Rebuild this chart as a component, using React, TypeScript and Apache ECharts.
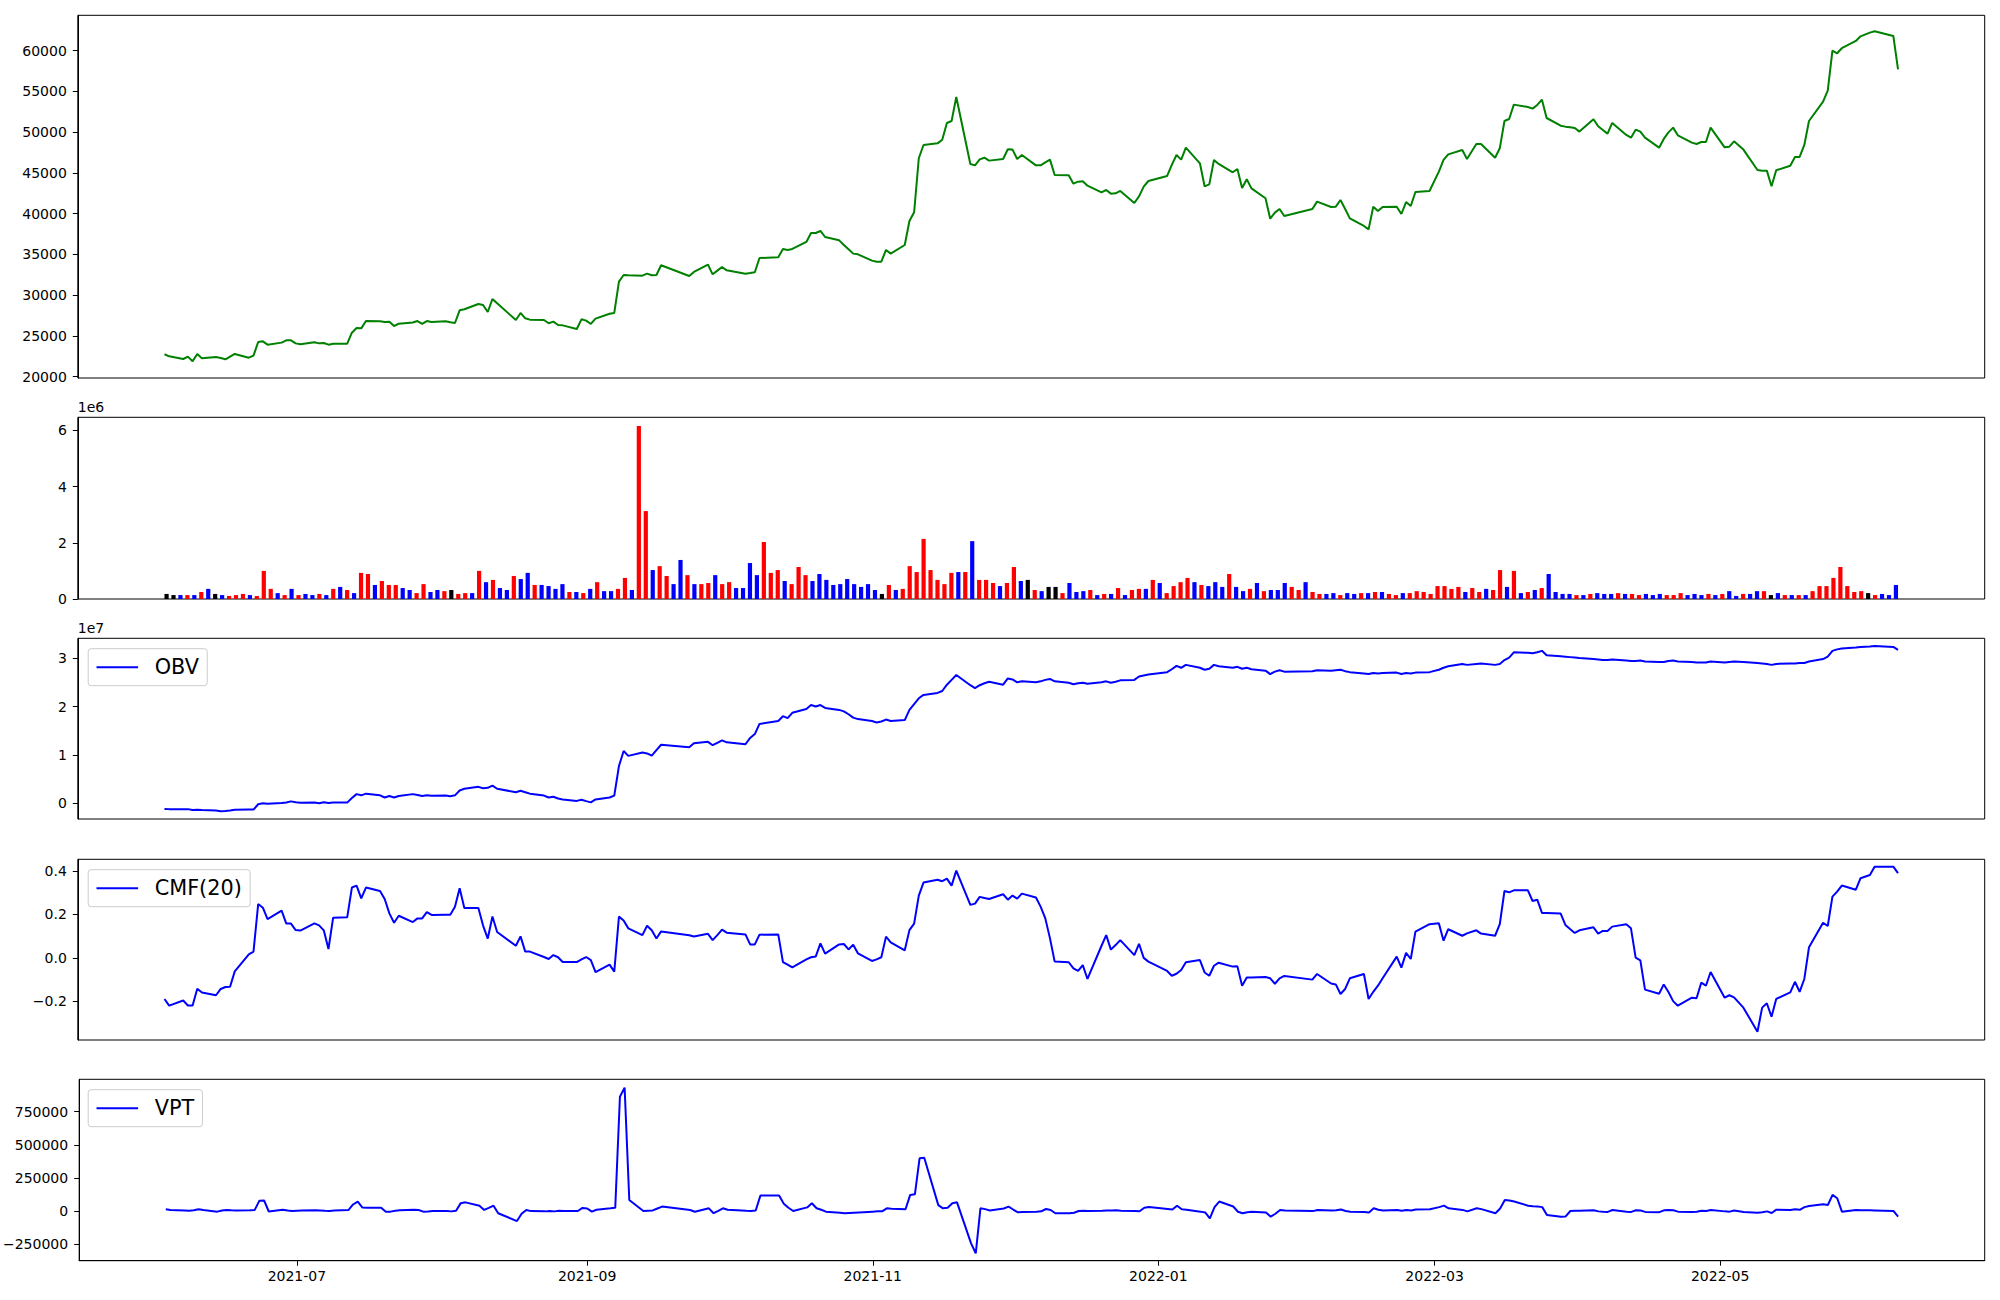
import React, { useEffect, useRef } from "react";
import * as echarts from "echarts";

// ---------- DATA ----------
const firstDay = "2021-06-03";
const lastDay = "2022-06-08";
const marketHolidays = [
  "2021-08-16", "2021-09-20", "2021-09-21", "2021-09-22", "2021-10-04", "2021-10-11",
  "2021-12-31", "2022-01-31", "2022-02-01", "2022-02-02", "2022-03-01", "2022-03-09",
  "2022-05-05", "2022-06-01", "2022-06-06",
];

const closePrice = [
  // 2021-06
  22750, 22500, 22170, 22460, 21890, 22790, 22250, 22420, 22290, 22130, 22460, 22790, 22330, 22580, 24260, 24340, 23930, 24180, 24460, 24460,
  // 2021-07
  24090, 23970, 24220, 24090, 24130, 23930, 24050, 24050, 25400, 25980, 25930, 26830, 26790, 26710, 26750, 26220, 26510, 26650, 26830, 26470, 26830, 26710,
  // 2021-08
  26790, 26670, 26590, 28140, 28270, 28920, 28800, 27940, 29530, 29000, 26960, 27820, 27160, 27000, 26960, 26550, 26750, 26340, 26300, 25850, 27040,
  // 2021-09
  26880, 26470, 27120, 27730, 27820, 31660, 32480, 32440, 32400, 32640, 32440, 32480, 33670, 32360, 32850, 33750, 32560, 33010, 33460,
  // 2021-10
  33050, 32640, 32720, 32810, 34560, 34650, 35670, 35550, 35670, 36530, 37630, 37630, 37880, 37140, 36730, 36160, 35630, 35100, 35010,
  // 2021-11
  34240, 34110, 34110, 35550, 35100, 36160, 39100, 40170, 46800, 48430, 48630, 49080, 51130, 51370, 54320, 46100, 45930, 46670, 46870, 46510, 46710, 47900,
  // 2021-12
  47860, 46710, 47200, 45930, 45930, 46300, 46630, 44750, 44710, 43680, 43930, 43970, 43440, 42620, 42910, 42460, 42500, 42790, 41310, 42130, 43320, 44010,
  // 2022-01
  44630, 45980, 47200, 46630, 48100, 46180, 43360, 43600, 46590, 46100, 45080, 45480, 43150, 44220, 43110, 41890, 39390, 40130, 40580, 39720,
  // 2022-02
  40580, 41480, 40820, 40860, 41680, 40580, 39430, 38490, 38080, 40860, 40330, 40820, 40860, 39960, 41430, 40940, 42660, 42790,
  // 2022-03
  45160, 46590, 47280, 47820, 46710, 48550, 48550, 46870, 48020, 51370, 51620, 53380, 53090, 52890, 53340, 53990, 51740, 50800, 50680, 50600, 50510,
  // 2022-04
  50070, 51580, 50720, 50270, 49820, 51130, 49660, 49330, 50310, 50070, 49330, 48100, 49170, 49980, 50560, 49620, 48720, 48550, 48800, 48800, 50560,
  // 2022-05
  48140, 48220, 48880, 47860, 45360, 45280, 45280, 43360, 45320, 45890, 46960, 46960, 48430, 51370, 53750, 55100, 60000, 59680, 60300, 61190, 61760,
  // 2022-06
  62210, 62380, 61800, 57710,
];

// volume in millions of shares
const volumeM = [
  0.18, 0.14, 0.14, 0.14, 0.14, 0.25, 0.36, 0.18, 0.14, 0.11,
  0.14, 0.18, 0.14, 0.11, 1.0, 0.36, 0.21, 0.14, 0.36, 0.14,
  0.18, 0.14, 0.18, 0.14, 0.36, 0.43, 0.32, 0.21, 0.93, 0.89,
  0.5, 0.64, 0.5, 0.5, 0.39, 0.32, 0.21, 0.53, 0.25, 0.32,
  0.28, 0.32, 0.18, 0.21, 0.21, 1.0, 0.6, 0.68, 0.39, 0.32,
  0.82, 0.71, 0.93, 0.5, 0.5, 0.46, 0.36, 0.53, 0.25, 0.25,
  0.21, 0.36, 0.6, 0.28, 0.28, 0.36, 0.75, 0.32, 6.16, 3.13,
  1.03, 1.17, 0.82, 0.53, 1.39, 0.85, 0.53, 0.53, 0.57, 0.85,
  0.53, 0.6, 0.39, 0.39, 1.28, 0.85, 2.03, 0.93, 1.03, 0.64,
  0.53, 1.14, 0.85, 0.64, 0.89, 0.68, 0.5, 0.53, 0.71, 0.53,
  0.43, 0.53, 0.32, 0.18, 0.5, 0.32, 0.36, 1.17, 0.96, 2.14,
  1.03, 0.68, 0.53, 0.93, 0.96, 0.96, 2.06, 0.68, 0.68, 0.57,
  0.46, 0.57, 1.14, 0.64, 0.68, 0.32, 0.28, 0.43, 0.43, 0.21,
  0.57, 0.25, 0.28, 0.32, 0.14, 0.18, 0.18, 0.39, 0.14, 0.32,
  0.36, 0.36, 0.68, 0.57, 0.21, 0.46, 0.6, 0.75, 0.6, 0.5,
  0.46, 0.6, 0.43, 0.89, 0.43, 0.28, 0.36, 0.57, 0.28, 0.32,
  0.32, 0.57, 0.43, 0.32, 0.6, 0.25, 0.18, 0.18, 0.21, 0.14,
  0.21, 0.18, 0.21, 0.21, 0.25, 0.25, 0.18, 0.14, 0.21, 0.21,
  0.28, 0.25, 0.18, 0.46, 0.46, 0.36, 0.43, 0.25, 0.39, 0.25,
  0.36, 0.32, 1.03, 0.43, 1.0, 0.21, 0.25, 0.32, 0.39, 0.89,
  0.25, 0.18, 0.18, 0.14, 0.14, 0.18, 0.21, 0.18, 0.18, 0.21,
  0.18, 0.18, 0.14, 0.18, 0.14, 0.18, 0.14, 0.14, 0.21, 0.14,
  0.18, 0.14, 0.18, 0.14, 0.18, 0.28, 0.11, 0.18, 0.18, 0.28,
  0.28, 0.14, 0.21, 0.14, 0.14, 0.14, 0.14, 0.28, 0.46, 0.46,
  0.75, 1.14, 0.46, 0.25, 0.28, 0.21, 0.14, 0.18, 0.14, 0.5,
];

// candle direction of each volume bar: r = up, b = down, k = unchanged
const volumeDirection = [
  "kkbrbrbkbr", "rrbrrrbrbr", "bbrbrbrbrr", "brrrbbrrbb", "rkrrbrbrbb",
  "rbbrbbbbrb", "rbrbbrrbrr", "brrbbrbrrb", "rrbbbbrrrb", "rrrbbbbbbb",
  "bbbkrbrrrr", "rrrrbrbrrr", "brrbkrbkkr", "bbbrbrbrbr", "rbrbrrrrbr",
  "bbbrbbrbrb", "bbrrbrrbbr", "bbrbrbrrbr", "rrrrrrrbrr", "brrbrbrbrb",
  "bbbrbrbbbr", "brrbbbrrrb", "bbrbrbbrbb", "rkbrbrbrrr", "rrrrrkrbbb",
].join("");

// On-balance volume, units of 1e7
const obvE7 = [
  -0.117, -0.12, -0.125, -0.12, -0.14, -0.135, -0.14, -0.15, -0.165, -0.16, -0.15, -0.135, -0.13, -0.13, -0.02, 0.0, -0.01, 0.005, 0.015, 0.04,
  0.02, 0.01, 0.015, 0.0, 0.02, 0.005, 0.015, 0.015, 0.11, 0.19, 0.165, 0.2, 0.165, 0.12, 0.15, 0.12, 0.15, 0.19, 0.17, 0.15, 0.165, 0.155,
  0.16, 0.145, 0.165, 0.265, 0.3, 0.34, 0.31, 0.32, 0.365, 0.3, 0.23, 0.26, 0.23, 0.2, 0.16, 0.12, 0.135, 0.1, 0.08, 0.05, 0.075,
  0.045, 0.02, 0.08, 0.12, 0.158, 0.77, 1.08, 0.98, 1.05, 1.03, 0.985, 1.1, 1.21, 1.16, 1.24, 1.27, 1.2, 1.25, 1.3,
  1.26, 1.22, 1.35, 1.43, 1.64, 1.7, 1.8, 1.76, 1.87, 1.95, 2.03, 2.0, 2.03, 1.97, 1.93, 1.9, 1.84, 1.77, 1.74,
  1.7, 1.67, 1.69, 1.73, 1.7, 1.72, 1.93, 2.05, 2.17, 2.24, 2.28, 2.32, 2.45, 2.55, 2.65, 2.44, 2.38, 2.44, 2.48, 2.51, 2.45, 2.58,
  2.56, 2.5, 2.52, 2.5, 2.52, 2.55, 2.57, 2.52, 2.49, 2.46, 2.48, 2.49, 2.47, 2.5, 2.52, 2.49, 2.51, 2.54, 2.55, 2.62, 2.64, 2.66,
  2.71, 2.77, 2.84, 2.8, 2.86, 2.8, 2.76, 2.78, 2.86, 2.83, 2.8, 2.82, 2.78, 2.8, 2.77, 2.74, 2.67, 2.72, 2.75, 2.72,
  2.73, 2.75, 2.74, 2.75, 2.76, 2.73, 2.71, 2.68, 2.67, 2.69, 2.68, 2.69, 2.7, 2.67, 2.69, 2.68, 2.7, 2.71,
  2.76, 2.8, 2.83, 2.88, 2.86, 2.88, 2.89, 2.86, 2.88, 2.96, 3.01, 3.12, 3.11, 3.1, 3.12, 3.15, 3.06, 3.04, 3.03, 3.02, 3.01,
  3.0, 2.98, 2.97, 2.96, 2.96, 2.97, 2.95, 2.94, 2.94, 2.95, 2.93, 2.92, 2.92, 2.94, 2.95, 2.93, 2.92, 2.91, 2.91, 2.91, 2.93,
  2.91, 2.92, 2.93, 2.92, 2.9, 2.89, 2.88, 2.86, 2.88, 2.89, 2.89, 2.9, 2.9, 2.93, 2.98, 3.03, 3.15, 3.18, 3.2, 3.22, 3.23,
  3.24, 3.25, 3.23, 3.17,
];

// Chaikin money flow (20)
const cmf20 = [
  -0.189, -0.22, -0.196, -0.219, -0.219, -0.142, -0.159, -0.172, -0.143, -0.134, -0.133, -0.062, 0.016, 0.029, 0.248, 0.231, 0.179, 0.218, 0.158, 0.158,
  0.128, 0.126, 0.159, 0.15, 0.127, 0.041, 0.185, 0.187, 0.324, 0.333, 0.274, 0.324, 0.308, 0.271, 0.205, 0.162, 0.194, 0.165, 0.182, 0.182, 0.211, 0.198,
  0.199, 0.199, 0.236, 0.321, 0.23, 0.23, 0.149, 0.089, 0.191, 0.119, 0.056, 0.099, 0.029, 0.029, 0.004, -0.005, 0.013, 0.003, -0.019, -0.019, -0.007,
  0.004, -0.01, -0.065, -0.031, -0.063, 0.19, 0.172, 0.136, 0.105, 0.148, 0.127, 0.089, 0.122, 0.104, 0.099, 0.111, 0.082, 0.105, 0.13,
  0.116, 0.108, 0.062, 0.062, 0.107, 0.108, -0.019, -0.031, -0.044, -0.007, 0.003, 0.006, 0.067, 0.02, 0.062, 0.064, 0.039, 0.061, 0.021,
  -0.014, -0.007, 0.003, 0.098, 0.072, 0.035, 0.128, 0.158, 0.287, 0.347, 0.36, 0.353, 0.365, 0.333, 0.402, 0.244, 0.25, 0.281, 0.276, 0.271, 0.293, 0.268,
  0.287, 0.273, 0.296, 0.278, 0.236, 0.182, 0.09, -0.017, -0.02, -0.048, -0.06, -0.033, -0.097, 0.056, 0.105, 0.038, 0.059, 0.082, 0.013, 0.065, 0.0, -0.017,
  -0.06, -0.082, -0.073, -0.056, -0.02, -0.01, -0.067, -0.082, -0.036, -0.022, -0.04, -0.039, -0.128, -0.09, -0.09, -0.088, -0.094, -0.119, -0.094, -0.083,
  -0.1, -0.074, -0.118, -0.122, -0.166, -0.143, -0.094, -0.074, -0.189, -0.156, -0.128, -0.094, 0.006, -0.045, 0.023, -0.005, 0.121, 0.155,
  0.159, 0.079, 0.132, 0.102, 0.113, 0.127, 0.112, 0.102, 0.155, 0.308, 0.302, 0.311, 0.311, 0.262, 0.268, 0.207, 0.207, 0.204, 0.152, 0.133, 0.115,
  0.127, 0.141, 0.112, 0.124, 0.124, 0.144, 0.155, 0.136, 0.001, -0.011, -0.146, -0.165, -0.122, -0.157, -0.199, -0.22, -0.183, -0.186, -0.114, -0.128, -0.065,
  -0.183, -0.172, -0.182, -0.229, -0.34, -0.229, -0.209, -0.271, -0.189, -0.159, -0.11, -0.156, -0.097, 0.049, 0.162, 0.147, 0.282, 0.305, 0.333, 0.314, 0.367,
  0.382, 0.42, 0.42, 0.39,
];

// Volume price trend, thousands
const vptK = [
  14, 8, 4, 2, 6, 14, 8, -4, 4, 9, 6, 4, 6, 9, 79, 80, -3, 11, 4, 1,
  3, 4, 6, 4, 2, 1, 4, 8, 50, 72, 27, 26, 26, -4, -4, 2, 6, 11, 8, -4, -3, 1,
  1, -2, 3, 60, 66, 41, 9, 24, 41, -16, -75, -20, 9, 0, -2, 1, -2, 2, 0, 1, 24,
  20, -4, 10, 21, 26, 863, 931, 84, 1, 3, 5, 20, 34, 8, -5, 21, -16, 2, 21,
  10, 2, 1, 5, 117, 117, 55, 25, 1, 28, 59, 22, 10, -4, -12, -16, -14, -12, -10,
  -4, -2, -2, 21, 18, 14, 122, 127, 398, 403, 45, 21, 25, 59, 66, -243, -318, 21, 15, 5, 20, 34,
  12, -9, -6, -4, -2, 16, 8, -16, -16, -12, 1, 2, 0, 2, 4, 4, 6, 3, 1, -1, 25, 31,
  16, 12, 41, 14, 11, -4, -10, -54, 30, 72, 35, -5, -16, -8, -4, -11, -42, -20, 9, 4,
  0, 9, 4, 6, 12, 1, -4, -6, -10, 21, 10, 4, 9, 3, 8, 5, 12, 14,
  30, 41, 21, 9, -2, 21, 15, -16, 20, 84, 80, 72, 41, 36, 34, 30, -29, -42, -40, 1, 2,
  3, 6, -2, -5, -6, 8, -4, -6, 6, 4, -6, -8, 6, 8, 6, -4, -6, -5, 2, 1, 8,
  -2, -4, 4, -6, -12, -9, -2, -14, 11, 8, 14, 10, 30, 39, 51, 46, 122, 97, -4, 9, 6,
  6, 5, 1, -42,
];

const monthTickLabels = ["2021-07", "2021-09", "2021-11", "2022-01", "2022-03", "2022-05"];
const priceTicks = [20000, 25000, 30000, 35000, 40000, 45000, 50000, 55000, 60000];
const volumeTicks = [0, 2, 4, 6];
const obvTicks = [0, 1, 2, 3];
const cmfTicks = [-0.2, 0.0, 0.2, 0.4];
const vptTicks = [-250000, 0, 250000, 500000, 750000];

// ---------- HELPERS ----------
const DAY = 86400000;
function parseDay(s: string): number {
  const [y, m, d] = s.split("-").map(Number);
  return Date.UTC(y, m - 1, d || 1);
}
function tradingDays(): number[] {
  const hs = new Set(marketHolidays);
  const out: number[] = [];
  const end = parseDay(lastDay);
  for (let t = parseDay(firstDay); t <= end; t += DAY) {
    const d = new Date(t);
    const wd = d.getUTCDay();
    const iso = d.toISOString().slice(0, 10);
    if (wd !== 0 && wd !== 6 && !hs.has(iso)) out.push(t);
  }
  return out;
}
const minusSign = (s: string) => s.replace("-", "\u2212");
const FONT = "DejaVu Sans";
const LEFT = 77.8;
const WIDTH = 1906.9;
const GRIDS = [
  { top: 15.3, height: 362.7 },
  { top: 417.3, height: 181.7 },
  { top: 638.3, height: 180.7 },
  { top: 859.3, height: 180.7 },
  { top: 1079.3, height: 181.4 },
];
const COLORS: Record<string, string> = { r: "#ff0000", b: "#0000ff", k: "#000000" };

function yAxisCfg(gridIndex: number, min: number, max: number, ticks: number[], fmt: (v: number) => string) {
  return {
    type: "value",
    gridIndex,
    min,
    max,
    splitLine: { show: false },
    axisLine: { show: true, onZero: false, lineStyle: { color: "#000", width: 1 } },
    axisTick: { show: true, length: 5, lineStyle: { color: "#000", width: 1 }, customValues: ticks },
    axisLabel: {
      show: true,
      customValues: ticks,
      formatter: (v: number) => fmt(v),
      color: "#000",
      fontSize: 14,
      fontFamily: FONT,
      margin: 11,
    },
  };
}

function legendCfg(name: string, gridTop: number) {
  return {
    data: [name],
    left: LEFT + 10.4,
    top: gridTop + 10.4,
    orient: "horizontal",
    icon: "rect",
    itemWidth: 41.6,
    itemHeight: 2.1,
    padding: [8, 8.3, 8, 8.3],
    backgroundColor: "rgba(255,255,255,0.8)",
    borderColor: "#cccccc",
    borderWidth: 1,
    borderRadius: 3,
    selectedMode: false,
    textStyle: { fontSize: 20.8, fontFamily: FONT, color: "#000", padding: [0, 0, 0, 11.6], lineHeight: 21 },
  };
}

function buildOption() {
  const dates = tradingDays();
  const n = dates.length;
  const span = dates[n - 1] - dates[0];
  const tMin = dates[0] - span * 0.05;
  const tMax = dates[n - 1] + span * 0.05;
  const monthTicks = monthTickLabels.map(parseDay);
  const barHalf = 0.3;
  const barSpan = n - 1 + 2 * barHalf;
  const vMin = -barHalf - barSpan * 0.05;
  const vMax = n - 1 + barHalf + barSpan * 0.05;
  const volMax = Math.max(...volumeM) * 1.05;

  const hiddenX = (gridIndex: number, min: number, max: number) => ({
    type: "value",
    gridIndex,
    min,
    max,
    show: false,
    axisLine: { show: false, onZero: false },
    splitLine: { show: false },
  });

  const xAxis = [
    hiddenX(0, tMin, tMax),
    hiddenX(1, vMin, vMax),
    hiddenX(2, tMin, tMax),
    hiddenX(3, tMin, tMax),
    {
      type: "value",
      gridIndex: 4,
      min: tMin,
      max: tMax,
      splitLine: { show: false },
      axisLine: { show: true, onZero: false, lineStyle: { color: "#000", width: 1 } },
      axisTick: { show: true, length: 5, lineStyle: { color: "#000", width: 1 }, customValues: monthTicks },
      axisLabel: {
        show: true,
        customValues: monthTicks,
        formatter: (v: number) => {
          const d = new Date(v);
          return `${d.getUTCFullYear()}-${String(d.getUTCMonth() + 1).padStart(2, "0")}`;
        },
        color: "#000",
        fontSize: 14,
        fontFamily: FONT,
        margin: 8,
      },
    },
  ];

  const yAxis = [
    yAxisCfg(0, 19840, 64340, priceTicks, (v) => String(v)),
    yAxisCfg(1, 0, volMax, volumeTicks, (v) => String(Math.round(v))),
    yAxisCfg(2, -0.324, 3.409, obvTicks, (v) => String(Math.round(v))),
    yAxisCfg(3, -0.378, 0.454, cmfTicks, (v) => minusSign(v.toFixed(1))),
    yAxisCfg(4, -374000, 994000, vptTicks, (v) => minusSign(String(Math.round(v)))),
  ];

  const lineCommon = { type: "line", showSymbol: false, symbol: "none", animation: false };

  return {
    animation: false,
    backgroundColor: "#ffffff",
    grid: GRIDS.map((g) => ({
      left: LEFT,
      width: WIDTH,
      top: g.top,
      height: g.height,
      show: true,
      borderColor: "#000",
      borderWidth: 1,
      containLabel: false,
    })),
    xAxis,
    yAxis,
    legend: [legendCfg("OBV", GRIDS[2].top), legendCfg("CMF(20)", GRIDS[3].top), legendCfg("VPT", GRIDS[4].top)],
    graphic: [
      { type: "text", left: LEFT, top: GRIDS[1].top - 17, style: { text: "1e6", fontSize: 14, fontFamily: FONT, fill: "#000" } },
      { type: "text", left: LEFT, top: GRIDS[2].top - 17, style: { text: "1e7", fontSize: 14, fontFamily: FONT, fill: "#000" } },
    ],
    series: [
      {
        ...lineCommon,
        name: "Close",
        xAxisIndex: 0,
        yAxisIndex: 0,
        data: dates.map((t, i) => [t, closePrice[i]]),
        lineStyle: { color: "#008000", width: 2 },
        itemStyle: { color: "#008000" },
      },
      {
        type: "bar",
        name: "Volume",
        xAxisIndex: 1,
        yAxisIndex: 1,
        barWidth: 4.2,
        animation: false,
        data: volumeM.map((v, i) => ({ value: [i, v], itemStyle: { color: COLORS[volumeDirection[i]] } })),
      },
      {
        ...lineCommon,
        name: "OBV",
        xAxisIndex: 2,
        yAxisIndex: 2,
        data: dates.map((t, i) => [t, obvE7[i]]),
        lineStyle: { color: "#0000ff", width: 2 },
        itemStyle: { color: "#0000ff" },
      },
      {
        ...lineCommon,
        name: "CMF(20)",
        xAxisIndex: 3,
        yAxisIndex: 3,
        data: dates.map((t, i) => [t, cmf20[i]]),
        lineStyle: { color: "#0000ff", width: 2 },
        itemStyle: { color: "#0000ff" },
      },
      {
        ...lineCommon,
        name: "VPT",
        xAxisIndex: 4,
        yAxisIndex: 4,
        data: dates.map((t, i) => [t, vptK[i] * 1000]),
        lineStyle: { color: "#0000ff", width: 2 },
        itemStyle: { color: "#0000ff" },
      },
    ],
  };
}

export default function App() {
  const ref = useRef<HTMLDivElement>(null);
  useEffect(() => {
    if (!ref.current) return;
    const chart = echarts.init(ref.current, null, { renderer: "svg" });
    chart.setOption(buildOption() as any);
    return () => chart.dispose();
  }, []);
  return (
    <div
      ref={ref}
      style={{ position: "absolute", left: 0, top: 0, width: 2000, height: 1300, background: "#ffffff" }}
    />
  );
}
